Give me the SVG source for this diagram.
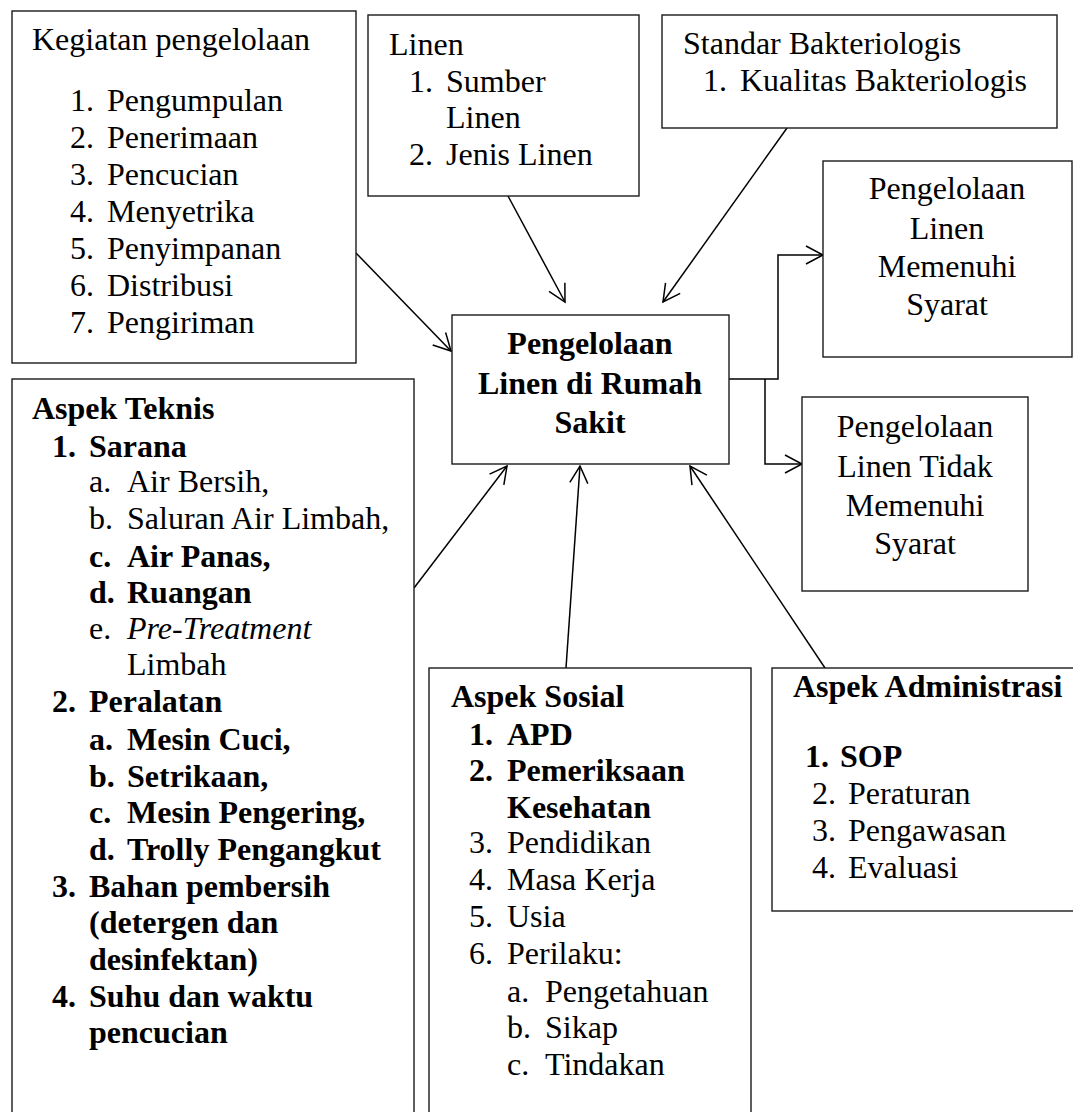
<svg xmlns="http://www.w3.org/2000/svg" width="1073" height="1112" viewBox="0 0 1073 1112">
<style>
text{font-family:"Liberation Serif","Times New Roman",serif;font-size:32px;fill:#000}
.b{font-weight:bold}
.i{font-style:italic}
.c{text-anchor:middle}
.box{fill:#fff;stroke:#1a1a1a;stroke-width:1.4}
.con{fill:none;stroke:#000;stroke-width:1.5}
</style>
<defs>
<marker id="arr" markerUnits="userSpaceOnUse" viewBox="-20 -12 22 24" refX="0" refY="0" markerWidth="22" markerHeight="24" orient="auto" overflow="visible">
<path d="M-17,-9 L0,0 L-17,9" fill="none" stroke="#000" stroke-width="1.5"/>
</marker>
</defs>
<rect width="1073" height="1112" fill="#fff"/>

<g id="connectors">
<line class="con" x1="356" y1="253" x2="451" y2="351" marker-end="url(#arr)"/>
<line class="con" x1="508" y1="196" x2="565" y2="302" marker-end="url(#arr)"/>
<line class="con" x1="787" y1="128" x2="663" y2="302" marker-end="url(#arr)"/>
<line class="con" x1="414" y1="588" x2="507" y2="466" marker-end="url(#arr)"/>
<line class="con" x1="566" y1="668" x2="580" y2="466" marker-end="url(#arr)"/>
<line class="con" x1="827" y1="671" x2="690" y2="466" marker-end="url(#arr)"/>
<polyline class="con" points="729,379 778,379 778,255 823,255" marker-end="url(#arr)"/>
<polyline class="con" points="765,379 765,464 802,464" marker-end="url(#arr)"/>
</g>

<g id="kegiatan">
<rect class="box" x="12" y="11" width="344" height="352"/>
<text x="32" y="50">Kegiatan pengelolaan</text>
<text x="70" y="111">1.</text><text x="107" y="111">Pengumpulan</text>
<text x="70" y="148">2.</text><text x="107" y="148">Penerimaan</text>
<text x="70" y="185">3.</text><text x="107" y="185">Pencucian</text>
<text x="70" y="222">4.</text><text x="107" y="222">Menyetrika</text>
<text x="70" y="259">5.</text><text x="107" y="259">Penyimpanan</text>
<text x="70" y="296">6.</text><text x="107" y="296">Distribusi</text>
<text x="70" y="333">7.</text><text x="107" y="333">Pengiriman</text>
</g>

<g id="linen">
<rect class="box" x="368" y="15" width="271" height="181"/>
<text x="389" y="55">Linen</text>
<text x="409" y="92">1.</text><text x="446" y="92">Sumber</text>
<text x="446" y="128">Linen</text>
<text x="409" y="165">2.</text><text x="446" y="165">Jenis Linen</text>
</g>

<g id="standar">
<rect class="box" x="662" y="15" width="395" height="113"/>
<text x="683" y="54">Standar Bakteriologis</text>
<text x="703" y="91">1.</text><text x="740" y="91">Kualitas Bakteriologis</text>
</g>

<g id="memenuhi">
<rect class="box" x="823" y="161" width="249" height="196"/>
<text class="c" x="947" y="199">Pengelolaan</text>
<text class="c" x="947" y="239">Linen</text>
<text class="c" x="947" y="277">Memenuhi</text>
<text class="c" x="947" y="315">Syarat</text>
</g>

<g id="tidak">
<rect class="box" x="802" y="397" width="226" height="194"/>
<text class="c" x="915" y="437">Pengelolaan</text>
<text class="c" x="915" y="477">Linen Tidak</text>
<text class="c" x="915" y="516">Memenuhi</text>
<text class="c" x="915" y="554">Syarat</text>
</g>

<g id="center">
<rect class="box" x="452" y="315" width="277" height="149"/>
<text class="c b" x="590" y="354">Pengelolaan</text>
<text class="c b" x="590" y="394">Linen di Rumah</text>
<text class="c b" x="590" y="433">Sakit</text>
</g>

<g id="teknis">
<rect class="box" x="12" y="379" width="402" height="800"/>
<text class="b" x="32" y="419">Aspek Teknis</text>
<text class="b" x="52" y="457">1.</text><text class="b" x="89" y="457">Sarana</text>
<text x="89" y="492">a.</text><text x="127" y="492">Air Bersih,</text>
<text x="89" y="529">b.</text><text x="127" y="529">Saluran Air Limbah,</text>
<text class="b" x="89" y="567">c.</text><text class="b" x="127" y="567">Air Panas,</text>
<text class="b" x="89" y="603">d.</text><text class="b" x="127" y="603">Ruangan</text>
<text x="89" y="639">e.</text><text class="i" x="127" y="639">Pre-Treatment</text>
<text x="127" y="675">Limbah</text>
<text class="b" x="52" y="712">2.</text><text class="b" x="89" y="712">Peralatan</text>
<text class="b" x="89" y="750">a.</text><text class="b" x="127" y="750">Mesin Cuci,</text>
<text class="b" x="89" y="787">b.</text><text class="b" x="127" y="787">Setrikaan,</text>
<text class="b" x="89" y="823">c.</text><text class="b" x="127" y="823">Mesin Pengering,</text>
<text class="b" x="89" y="860">d.</text><text class="b" x="127" y="860">Trolly Pengangkut</text>
<text class="b" x="52" y="897">3.</text><text class="b" x="89" y="897">Bahan pembersih</text>
<text class="b" x="89" y="933">(detergen dan</text>
<text class="b" x="89" y="970">desinfektan)</text>
<text class="b" x="52" y="1007">4.</text><text class="b" x="89" y="1007">Suhu dan waktu</text>
<text class="b" x="89" y="1043">pencucian</text>
</g>

<g id="sosial">
<rect class="box" x="429" y="668" width="322" height="500"/>
<text class="b" x="451" y="707">Aspek Sosial</text>
<text class="b" x="469" y="745">1.</text><text class="b" x="507" y="745">APD</text>
<text class="b" x="469" y="781">2.</text><text class="b" x="507" y="781">Pemeriksaan</text>
<text class="b" x="507" y="818">Kesehatan</text>
<text x="469" y="853">3.</text><text x="507" y="853">Pendidikan</text>
<text x="469" y="890">4.</text><text x="507" y="890">Masa Kerja</text>
<text x="469" y="927">5.</text><text x="507" y="927">Usia</text>
<text x="469" y="964">6.</text><text x="507" y="964">Perilaku:</text>
<text x="507" y="1002">a.</text><text x="545" y="1002">Pengetahuan</text>
<text x="507" y="1038">b.</text><text x="545" y="1038">Sikap</text>
<text x="507" y="1075">c.</text><text x="545" y="1075">Tindakan</text>
</g>

<g id="administrasi">
<rect class="box" x="772" y="668" width="320" height="243"/>
<text class="b" x="793" y="697">Aspek Administrasi</text>
<text class="b" x="805" y="767">1.</text><text class="b" x="840" y="767">SOP</text>
<text x="812" y="804">2.</text><text x="848" y="804">Peraturan</text>
<text x="812" y="841">3.</text><text x="848" y="841">Pengawasan</text>
<text x="812" y="878">4.</text><text x="848" y="878">Evaluasi</text>
</g>
</svg>
